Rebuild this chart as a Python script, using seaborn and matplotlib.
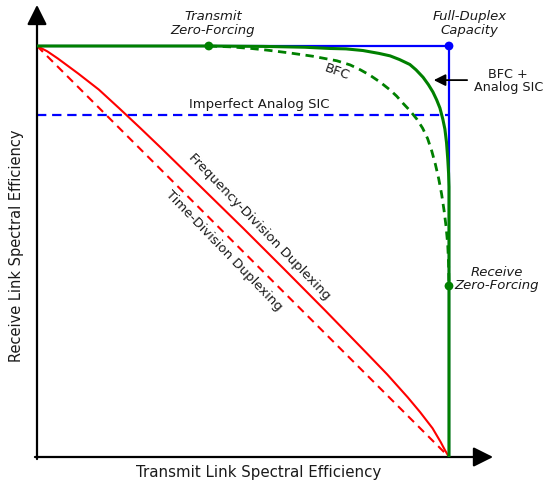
import matplotlib
matplotlib.use("Agg")
import matplotlib.pyplot as plt
import seaborn as sns
import pandas as pd

# Rate regions (normalised): x = transmit link, y = receive link
tdd_x = [0.0, 1.0]
tdd_y = [1.0, 0.0]

fdd_x = [0.0, 0.025, 0.05, 0.1, 0.15, 0.2, 0.25, 0.3, 0.4, 0.5, 0.6, 0.7, 0.8, 0.85,
         0.9, 0.93, 0.96, 0.98, 0.99, 1.0]
fdd_y = [1.0, 0.987, 0.970, 0.933, 0.894, 0.848, 0.801, 0.753, 0.655, 0.557, 0.457, 0.356,
         0.253, 0.201, 0.145, 0.109, 0.070, 0.036, 0.017, 0.0]

bfc_x = [0.417, 0.468, 0.52, 0.558, 0.614, 0.67, 0.728, 0.760, 0.785, 0.808, 0.833, 0.857,
         0.873, 0.888, 0.905, 0.922, 0.936, 0.948, 0.958, 0.967, 0.975, 0.982, 0.988,
         0.993, 0.997, 0.999, 1.0]
bfc_y = [1.0, 0.998, 0.994, 0.990, 0.983, 0.975, 0.964, 0.954, 0.942, 0.929, 0.912, 0.893,
         0.878, 0.861, 0.843, 0.822, 0.800, 0.775, 0.745, 0.712, 0.677, 0.640, 0.600,
         0.560, 0.515, 0.470, 0.416]

sic_x = [0.0, 0.417, 0.55, 0.65, 0.711, 0.75, 0.791, 0.83, 0.857, 0.88, 0.905, 0.92, 0.937,
         0.95, 0.961, 0.970, 0.978, 0.985, 0.990, 0.994, 0.997, 0.999, 1.0, 1.0, 1.0]
sic_y = [1.0, 1.0, 0.999, 0.997, 0.994, 0.993, 0.989, 0.982, 0.976, 0.967, 0.955, 0.942, 0.924,
         0.906, 0.888, 0.869, 0.849, 0.822, 0.798, 0.765, 0.725, 0.690, 0.657, 0.416, 0.0]

fd_x = [0.0, 1.0, 1.0]
fd_y = [1.0, 1.0, 0.0]

imperfect_x = [0.0, 1.0]
imperfect_y = [0.832, 0.832]

zf_x = [0.417, 1.0]
zf_y = [1.0, 0.416]
cap_x = [1.0]
cap_y = [1.0]

BLUE = "#0000ff"
GREEN = "#008000"
RED = "#ff0000"
TXT = "#1a1a1a"

sns.set_theme(style="white")
plt.rcParams["font.family"] = ["DejaVu Sans"]

fig = plt.figure(figsize=(5.45, 4.87), dpi=100)
W, H = 545, 487
x0, y0 = 37, 457          # origin in pixels
sx, sy = 412, 411         # pixels per unit
xmax, ymax = 1.12, 1.11
ax = fig.add_axes([x0 / W, (H - y0) / H, xmax * sx / W, ymax * sy / H])
ax.set_xlim(0, xmax)
ax.set_ylim(0, ymax)
ax.set_axis_off()


def line(x, y, color, lw, dashes=None, z=2):
    df = pd.DataFrame({"x": x, "y": y})
    sns.lineplot(data=df, x="x", y="y", ax=ax, color=color, linewidth=lw,
                 sort=False, estimator=None, zorder=z)
    ln = ax.lines[-1]
    if dashes is not None:
        ln.set_dashes(dashes)
    ln.set_solid_capstyle("butt")
    ln.set_dash_capstyle("butt")
    ln.set_solid_joinstyle("round")


line(fd_x, fd_y, BLUE, 1.6, z=2)
line(imperfect_x, imperfect_y, BLUE, 1.6, dashes=(4.2, 2.6), z=2)
line(tdd_x, tdd_y, RED, 1.5, dashes=(4.0, 2.8), z=3)
line(fdd_x, fdd_y, RED, 1.5, z=3)
line(bfc_x, bfc_y, GREEN, 2.0, dashes=(3.0, 2.0), z=4)
line(sic_x, sic_y, GREEN, 2.2, z=5)

sns.scatterplot(x=cap_x, y=cap_y, ax=ax, color=BLUE, s=40, edgecolor="none", zorder=6, clip_on=False)
sns.scatterplot(x=zf_x, y=zf_y, ax=ax, color=GREEN, s=40, edgecolor="none", zorder=6, clip_on=False)

# axes with arrow heads
arrow = dict(arrowstyle="-|>,head_length=0.6,head_width=0.3", color="black",
             lw=1.6, mutation_scale=20, shrinkA=0, shrinkB=0)
ax.annotate("", xy=(1.107, 0), xytext=(-0.005, 0), arrowprops=arrow, annotation_clip=False)
ax.annotate("", xy=(0, 1.10), xytext=(0, -0.005), arrowprops=arrow, annotation_clip=False)

fs = 9.5
ax.text(0.427, 1.055, "Transmit\nZero-Forcing", ha="center", va="center", fontsize=fs,
        style="italic", color=TXT, linespacing=1.05)
ax.text(1.05, 1.055, "Full-Duplex\nCapacity", ha="center", va="center", fontsize=fs,
        style="italic", color=TXT, linespacing=1.05)
ax.text(1.116, 0.433, "Receive\nZero-Forcing", ha="center", va="center", fontsize=fs,
        style="italic", color=TXT, linespacing=1.05)
ax.text(1.144, 0.915, "BFC +\nAnalog SIC", ha="center", va="center", fontsize=9.2,
        color=TXT, linespacing=1.05)
ax.annotate("", xy=(0.963, 0.917), xytext=(1.044, 0.917),
            arrowprops=dict(arrowstyle="-|>,head_length=0.5,head_width=0.25", color="black",
                            lw=1.3, mutation_scale=14, shrinkA=0, shrinkB=0))
ax.text(0.728, 0.937, "BFC", ha="center", va="center", fontsize=fs, rotation=-20, color=TXT)
ax.text(0.539, 0.857, "Imperfect Analog SIC", ha="center", va="center", fontsize=fs, color=TXT)
ax.text(0.539, 0.560, "Frequency-Division Duplexing", ha="center", va="center", fontsize=fs,
        rotation=-46, color=TXT, rotation_mode="anchor")
ax.text(0.454, 0.503, "Time-Division Duplexing", ha="center", va="center", fontsize=fs,
        rotation=-46, color=TXT, rotation_mode="anchor")

ax.text(0.539, -0.037, "Transmit Link Spectral Efficiency", ha="center", va="center",
        fontsize=10.8, color=TXT)
ax.text(-0.049, 0.515, "Receive Link Spectral Efficiency", ha="center", va="center",
        fontsize=10.5, color=TXT, rotation=90)

fig.savefig("out.png", dpi=100)
